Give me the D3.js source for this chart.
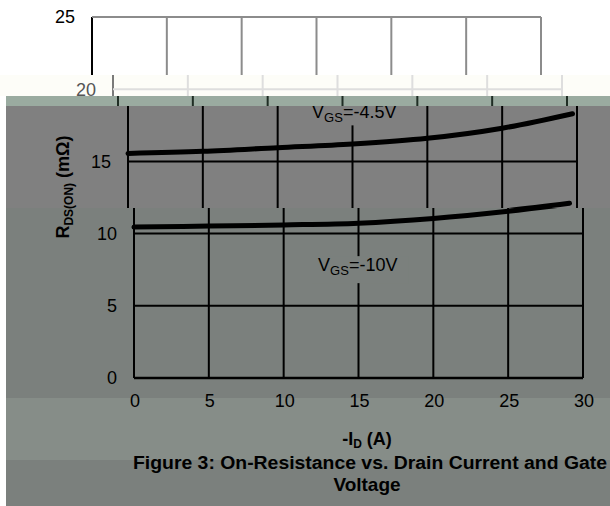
<!DOCTYPE html>
<html>
  <head>
    <title>On-Resistance vs. Drain Current</title>
    <script src="https://d3js.org/d3.v7.min.js"></script>
    <style>
      body { margin: 0; background: white; }
      text { font-family: "Liberation Sans", Arial, sans-serif; }
    </style>
  </head>
  <body>
    <svg width="610" height="506"></svg>
    <script>
      // chart values
      var xTicks = [0, 5, 10, 15, 20, 25, 30];
      var yTicks = [0, 5, 10, 15, 20, 25];
      var current45 = [0, 5, 10, 15, 20, 25, 29.7];
      var rds45 = [15.55, 15.7, 15.95, 16.2, 16.6, 17.3, 18.3];
      var current10 = [0, 5, 10, 15, 20, 25, 29.5];
      var rds10 = [10.45, 10.52, 10.6, 10.72, 11.05, 11.55, 12.1];
      var seriesLabels = ["-4.5V", "-10V"];
      var labelValues = [17.98, 7.4];

      var svg = d3.select("svg");
      var plotW = 449;

      // the picture is cut in horizontal strips, each shifted sideways
      var bands = [
        { y0: 0, y1: 75, left: 0, x0: 92, bg: "#ffffff", grid: "#8c8c8c", axis: "#000", txt: "#000" },
        { y0: 75, y1: 96, left: 0, x0: 113, bg: "#fdfdf8", grid: "#dedede", axis: "#7a7a7a", txt: "#555" },
        { y0: 96, y1: 106, left: 6, x0: 118, bg: "#9aaba0", grid: "#1f2d24", axis: "#1f2d24", txt: "#000" },
        { y0: 106, y1: 208, left: 6, x0: 128, bg: "#808080", grid: "#000", axis: "#000", txt: "#000" },
        { y0: 208, y1: 398, left: 6, x0: 134, bg: "#7b807d", grid: "#000", axis: "#000", txt: "#000" }
      ];

      var y = d3.scaleLinear().domain([0, 25]).range([378, 17]);

      // lower strips (text only)
      svg.append("rect").attr("x", 6).attr("y", 398).attr("width", 604).attr("height", 62).attr("fill", "#868d88");
      svg.append("rect").attr("x", 6).attr("y", 460).attr("width", 604).attr("height", 46).attr("fill", "#7b807d");

      var defs = svg.append("defs");

      function inBand(b, py) {
        return py >= b.y0 && py < b.y1;
      }

      function drawChart(g, b) {
        var x = d3.scaleLinear().domain([0, 30]).range([b.x0, b.x0 + plotW]);

        g.append("rect")
          .attr("x", b.left).attr("y", b.y0)
          .attr("width", 610 - b.left).attr("height", b.y1 - b.y0)
          .attr("fill", b.bg);

        // vertical grid
        g.selectAll(".vg").data(xTicks).enter().append("line")
          .attr("x1", function (d) { return x(d); })
          .attr("x2", function (d) { return x(d); })
          .attr("y1", y(0)).attr("y2", y(25))
          .attr("stroke", function (d) { return d === 0 ? b.axis : b.grid; })
          .attr("stroke-width", 2);

        // horizontal grid
        g.selectAll(".hg").data(yTicks).enter().append("line")
          .attr("x1", x(0)).attr("x2", x(30))
          .attr("y1", function (d) { return y(d); })
          .attr("y2", function (d) { return y(d); })
          .attr("stroke", function (d) { return d === 0 ? b.axis : b.grid; })
          .attr("stroke-width", function (d) { return d === 0 ? 2.5 : 2; });

        var line = d3.line()
          .x(function (d) { return x(d[0]); })
          .y(function (d) { return y(d[1]); })
          .curve(d3.curveMonotoneX);

        g.append("path")
          .datum(d3.zip(current45, rds45))
          .attr("d", line).attr("fill", "none")
          .attr("stroke", "#000").attr("stroke-width", 5).attr("stroke-linecap", "round");
        g.append("path")
          .datum(d3.zip(current10, rds10))
          .attr("d", line).attr("fill", "none")
          .attr("stroke", "#000").attr("stroke-width", 5).attr("stroke-linecap", "round");

        // series labels with a box hiding the grid
        seriesLabels.forEach(function (s, i) {
          var lx = x(12.3), ly = y(labelValues[i]);
          if (!inBand(b, ly)) return;
          g.append("rect")
            .attr("x", lx - 6).attr("y", ly - 15)
            .attr("width", 96).attr("height", i === 1 ? 27 : 22)
            .attr("fill", b.bg);
          var t = g.append("text").attr("x", lx).attr("y", ly)
            .attr("font-size", 18).attr("fill", b.txt);
          t.append("tspan").text("V");
          t.append("tspan").attr("dy", 4).attr("font-size", 13).text("GS");
          t.append("tspan").attr("dy", -4).text("=" + s);
        });

        // y tick labels
        g.selectAll(".yl")
          .data(yTicks.filter(function (d) { return inBand(b, y(d)); }))
          .enter().append("text")
          .attr("x", b.x0 - 17)
          .attr("y", function (d) { return y(d); })
          .attr("dy", "0.36em")
          .attr("text-anchor", "end")
          .attr("font-size", 18)
          .attr("fill", b.txt)
          .text(function (d) { return d; });
      }

      bands.forEach(function (b, i) {
        defs.append("clipPath").attr("id", "band" + i)
          .append("rect")
          .attr("x", b.left).attr("y", b.y0)
          .attr("width", 610 - b.left).attr("height", b.y1 - b.y0);
        var g = svg.append("g").attr("clip-path", "url(#band" + i + ")");
        drawChart(g, b);
      });

      // y axis title
      var yt = svg.append("text")
        .attr("transform", "translate(69,187) rotate(-90)")
        .attr("text-anchor", "middle")
        .attr("font-size", 18).attr("font-weight", "bold");
      yt.append("tspan").text("R");
      yt.append("tspan").attr("dy", 4).attr("font-size", 12).text("DS(ON)");
      yt.append("tspan").attr("dy", -4).text(" (m\u03a9)");

      // x tick labels
      var xl = d3.scaleLinear().domain([0, 30]).range([135, 135 + plotW]);
      svg.selectAll(".xl").data(xTicks).enter().append("text")
        .attr("x", function (d) { return xl(d); })
        .attr("y", 407)
        .attr("text-anchor", "middle")
        .attr("font-size", 18)
        .text(function (d) { return d; });

      // x axis title
      var xt = svg.append("text")
        .attr("x", 367).attr("y", 445)
        .attr("text-anchor", "middle")
        .attr("font-size", 18).attr("font-weight", "bold");
      xt.append("tspan").text("-I");
      xt.append("tspan").attr("dy", 3).attr("font-size", 12).text("D");
      xt.append("tspan").attr("dy", -3).text(" (A)");

      // caption
      svg.append("text")
        .attr("x", 370).attr("y", 469)
        .attr("text-anchor", "middle")
        .attr("font-size", 18).attr("font-weight", "bold")
        .attr("textLength", 474).attr("lengthAdjust", "spacingAndGlyphs")
        .text("Figure 3: On-Resistance vs. Drain Current and Gate");
      svg.append("text")
        .attr("x", 367).attr("y", 491)
        .attr("text-anchor", "middle")
        .attr("font-size", 19).attr("font-weight", "bold")
        .text("Voltage");
    </script>
  </body>
</html>
